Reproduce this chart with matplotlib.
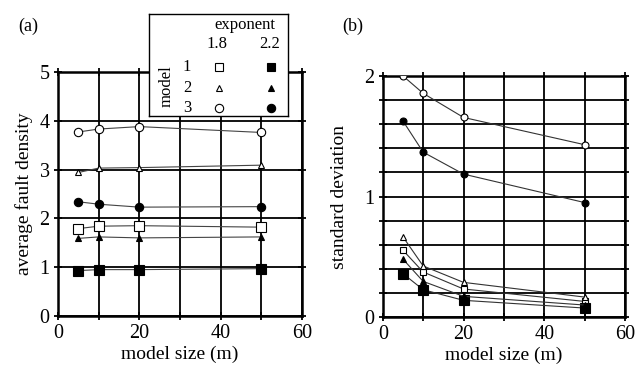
import matplotlib
matplotlib.use('Agg')
import matplotlib.pyplot as plt
import numpy as np

plt.rcParams['font.family'] = ['Liberation Serif', 'DejaVu Serif']

# 模型尺寸
size = [5, 10, 20, 50]

# (a) 平均断层密度
dens = {
    ('1', '1.8'): [1.79, 1.84, 1.85, 1.82],
    ('1', '2.2'): [0.93, 0.95, 0.95, 0.97],
    ('2', '1.8'): [2.94, 3.03, 3.04, 3.09],
    ('2', '2.2'): [1.59, 1.62, 1.60, 1.62],
    ('3', '1.8'): [3.77, 3.83, 3.88, 3.76],
    ('3', '2.2'): [2.34, 2.29, 2.23, 2.24],
}

# (b) 标准差
std = {
    ('1', '1.8'): [0.554, 0.374, 0.233, 0.13],
    ('1', '2.2'): [0.36, 0.227, 0.139, 0.075],
    ('2', '1.8'): [0.665, 0.424, 0.288, 0.166],
    ('2', '2.2'): [0.48, 0.296, 0.172, 0.10],
    ('3', '1.8'): [2.0, 1.856, 1.656, 1.43],
    ('3', '2.2'): [1.626, 1.368, 1.186, 0.95],
}

models = ['1', '2', '3']
exponents = ['1.8', '2.2']
marker_of = {'1': 's', '2': '^', '3': 'o'}
# 1.8空心, 2.2实心
face_of = {'1.8': 'white', '2.2': 'black'}


def style_axes(ax, ylim, yticks, ylabels):
    ax.set_xlim(0, 60)
    ax.set_ylim(*ylim)
    ax.set_xticks([0, 10, 20, 30, 40, 50, 60])
    ax.set_xticklabels(['0', '', '20', '', '40', '', '60'])
    ax.set_yticks(yticks)
    ax.set_yticklabels(ylabels)
    ax.grid(True, color='black', linewidth=1.3)
    ax.set_axisbelow(True)
    for s in ax.spines.values():
        s.set_linewidth(1.8)
    # 刻度穿过边框，四边都有
    ax.tick_params(direction='inout', length=6, width=1.3, labelsize=14.5, pad=3,
                   top=True, right=True)
    ax.set_xlabel('model size (m)', fontsize=14, labelpad=1.5)


fig = plt.figure(figsize=(6.37, 3.67), dpi=100)

ax1 = fig.add_axes([0.0911, 0.139, 0.383, 0.665])
for m in models:
    for e in exponents:
        ms = 7 if marker_of[m] == 's' else 6
        if marker_of[m] == '^':
            ms = 5
        ax1.plot(size, dens[(m, e)], color='#444444', linewidth=0.8,
                 marker=marker_of[m], markersize=ms, markerfacecolor=face_of[e],
                 markeredgecolor='black', markeredgewidth=0.8, zorder=3)
style_axes(ax1, (0, 5), [0, 1, 2, 3, 4, 5], ['0', '1', '2', '3', '4', '5'])
ax1.set_ylabel('average fault density', fontsize=14, labelpad=5)

ax2 = fig.add_axes([0.601, 0.136, 0.380, 0.657])
for m in models:
    for e in exponents:
        ms = 5
        if m == '1' and e == '2.2':
            ms = 7
        ax2.plot(size, std[(m, e)], color='#333333', linewidth=0.8,
                 marker=marker_of[m], markersize=ms, markerfacecolor=face_of[e],
                 markeredgecolor='black', markeredgewidth=0.8, zorder=3)
yt = np.arange(0, 2.01, 0.2)
ylab = []
for v in yt:
    r = round(v, 1)
    ylab.append(str(int(r)) if r in (0.0, 1.0, 2.0) else '')
style_axes(ax2, (0, 2), yt, ylab)
ax2.set_ylabel('standard deviation', fontsize=14, labelpad=12)

fig.text(0.028, 0.915, '(a)', fontsize=13)
fig.text(0.538, 0.915, '(b)', fontsize=13)

# 图例框
lg = fig.add_axes([0.234, 0.684, 0.218, 0.278])
lg.set_xlim(0, 139)
lg.set_ylim(102, 0)
lg.set_xticks([])
lg.set_yticks([])
for s in lg.spines.values():
    s.set_linewidth(1.0)
lg.text(96, 11, 'exponent', ha='center', va='center', fontsize=12)
lg.text(68, 30, '1.8', ha='center', va='center', fontsize=12)
lg.text(121, 30, '2.2', ha='center', va='center', fontsize=12)
lg.text(18, 72, 'model', ha='center', va='center', fontsize=12, rotation=90)
row_y = [53, 74, 94]
for m, yy in zip(models, row_y):
    lg.text(38, yy, m, ha='center', va='center', fontsize=12)
    for e, xx in zip(exponents, [70, 122]):
        lg.plot([xx], [yy], marker=marker_of[m], markersize=6 if marker_of[m] != '^' else 5,
                markerfacecolor=face_of[e], markeredgecolor='black', markeredgewidth=0.8)

fig.savefig('out.png', dpi=100)
